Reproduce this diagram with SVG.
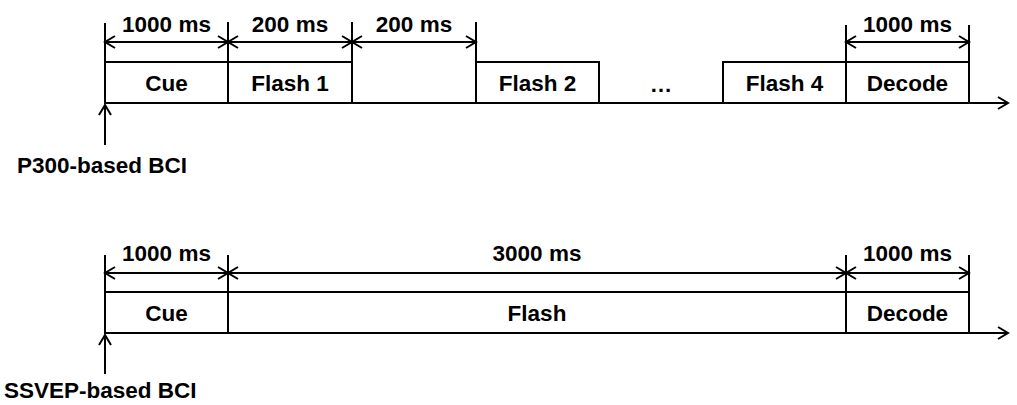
<svg xmlns="http://www.w3.org/2000/svg" width="1017" height="405" viewBox="0 0 1017 405">
  <style>
    .ln { stroke: #000; stroke-width: 2; fill: none; }
    .box { stroke: #000; stroke-width: 2; fill: #fff; }
    .dim { stroke: #000; stroke-width: 2; fill: none; marker-start: url(#chev); marker-end: url(#chev); }
    .axis { stroke: #000; stroke-width: 2; fill: none; marker-end: url(#chev); }
    text { font-family: "Liberation Sans", Arial, sans-serif; font-weight: bold; font-size: 22.5px; fill: #000; }
    .c { text-anchor: middle; }
  </style>
  <defs>
    <marker id="chev" viewBox="0 0 14 14" refX="12" refY="7" markerWidth="14" markerHeight="14" markerUnits="userSpaceOnUse" orient="auto-start-reverse">
      <path d="M2,1 L12,7 L2,13" stroke="#000" stroke-width="2" fill="none"/>
    </marker>
  </defs>

  <g id="connectors">
    <!-- top timeline -->
    <line class="axis" x1="105" y1="103" x2="1008" y2="103"/>
    <line class="axis" x1="105" y1="145" x2="105" y2="105"/>
    <line class="ln" x1="105" y1="23" x2="105" y2="62"/>
    <line class="ln" x1="228" y1="22" x2="228" y2="62"/>
    <line class="ln" x1="352" y1="22" x2="352" y2="62"/>
    <line class="ln" x1="476" y1="22" x2="476" y2="62"/>
    <line class="ln" x1="846" y1="25" x2="846" y2="62"/>
    <line class="ln" x1="969" y1="25" x2="969" y2="62"/>
    <line class="dim" x1="105" y1="42" x2="228" y2="42"/>
    <line class="dim" x1="228" y1="42" x2="352" y2="42"/>
    <line class="dim" x1="352" y1="42" x2="476" y2="42"/>
    <line class="dim" x1="846" y1="42" x2="969" y2="42"/>
    <!-- bottom timeline -->
    <line class="axis" x1="105" y1="333" x2="1008" y2="333"/>
    <line class="axis" x1="105" y1="374" x2="105" y2="335"/>
    <line class="ln" x1="105" y1="255" x2="105" y2="292"/>
    <line class="ln" x1="228" y1="255" x2="228" y2="292"/>
    <line class="ln" x1="846" y1="255" x2="846" y2="292"/>
    <line class="ln" x1="969" y1="255" x2="969" y2="292"/>
    <line class="dim" x1="105" y1="273" x2="228" y2="273"/>
    <line class="dim" x1="228" y1="273" x2="846" y2="273"/>
    <line class="dim" x1="846" y1="273" x2="969" y2="273"/>
  </g>

  <g id="dim-labels">
    <text class="c" x="166.5" y="32">1000 ms</text>
    <text class="c" x="290" y="32">200 ms</text>
    <text class="c" x="414" y="32">200 ms</text>
    <text class="c" x="907.5" y="32">1000 ms</text>
    <text class="c" x="166.5" y="261">1000 ms</text>
    <text class="c" x="537" y="261">3000 ms</text>
    <text class="c" x="907.5" y="261">1000 ms</text>
  </g>

  <g id="p300-cue"><rect class="box" x="105" y="62" width="123" height="41"/><text class="c" x="166.5" y="91">Cue</text></g>
  <g id="p300-flash1"><rect class="box" x="228" y="62" width="124" height="41"/><text class="c" x="290" y="91">Flash 1</text></g>
  <g id="p300-flash2"><rect class="box" x="476" y="62" width="123" height="41"/><text class="c" x="537.5" y="91">Flash 2</text></g>
  <g id="p300-dots"><text class="c" x="661" y="92">…</text></g>
  <g id="p300-flash4"><rect class="box" x="723" y="62" width="123" height="41"/><text class="c" x="784.5" y="91">Flash 4</text></g>
  <g id="p300-decode"><rect class="box" x="846" y="62" width="123" height="41"/><text class="c" x="907.5" y="91">Decode</text></g>
  <g id="p300-label"><text x="17" y="173">P300-based BCI</text></g>

  <g id="ssvep-cue"><rect class="box" x="105" y="292" width="123" height="41"/><text class="c" x="166.5" y="321">Cue</text></g>
  <g id="ssvep-flash"><rect class="box" x="228" y="292" width="618" height="41"/><text class="c" x="537" y="321">Flash</text></g>
  <g id="ssvep-decode"><rect class="box" x="846" y="292" width="123" height="41"/><text class="c" x="907.5" y="321">Decode</text></g>
  <g id="ssvep-label"><text x="4" y="398">SSVEP-based BCI</text></g>
</svg>
